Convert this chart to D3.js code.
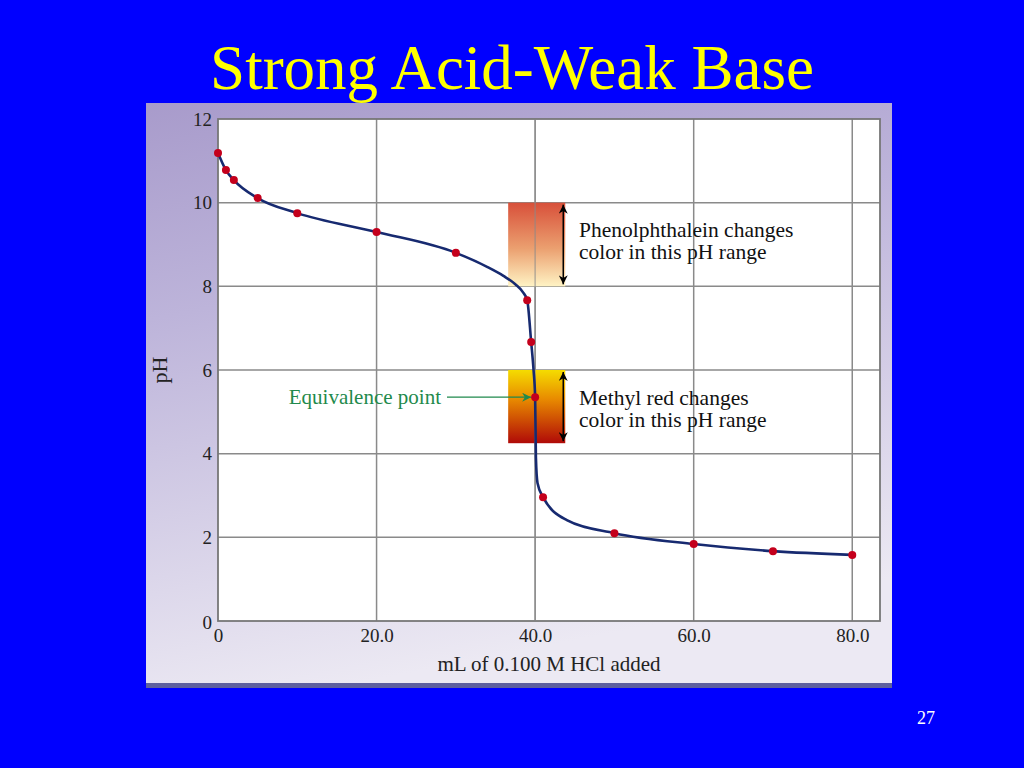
<!DOCTYPE html>
<html><head><meta charset="utf-8">
<script src="https://cdn.jsdelivr.net/npm/d3@7"></script>
<style>html,body{margin:0;padding:0;background:#0000ff;overflow:hidden}</style>
</head><body>
<svg id="c" width="1024" height="768"></svg>
<script>
// ---- data ----
const titleText = "Strong Acid-Weak Base";
const xTickValues = [0, 20, 40, 60, 80];
const xTickLabels = ["0", "20.0", "40.0", "60.0", "80.0"];
const yTickValues = [0, 2, 4, 6, 8, 10, 12];
const yTickLabels = ["0", "2", "4", "6", "8", "10", "12"];
const pointVolumes = [0, 1, 2, 5, 10, 20, 30, 39, 39.5, 40, 41, 50, 60, 70, 80];
const pointPH = [11.19, 10.78, 10.54, 10.11, 9.75, 9.30, 8.80, 7.67, 6.67, 5.35, 2.96, 2.10, 1.84, 1.67, 1.58];
const curveVolumes = [0, 1, 2, 5, 10, 20, 30, 34, 36, 37.5, 38.5, 39, 39.5, 39.8, 40, 40.1, 40.3, 41, 44, 50, 60, 70, 80];
const curvePH = [11.19, 10.78, 10.54, 10.11, 9.75, 9.30, 8.80, 8.46, 8.25, 8.05, 7.85, 7.67, 6.67, 6.0, 5.35, 3.9, 3.3, 2.96, 2.41, 2.10, 1.84, 1.67, 1.58];
const indicatorNames = ["Phenolphthalein", "Methyl red"];
const indicatorTop = [10, 6];
const indicatorBottom = [8, 4.25];
const indicatorX0 = [36.6, 36.6];
const indicatorX1 = [43.8, 43.8];
const indicatorText = [["Phenolphthalein changes", "color in this pH range"], ["Methyl red changes", "color in this pH range"]];
const eqVolume = 40, eqPH = 5.35;

const svg = d3.select("#c");
const x = d3.scaleLinear().domain([0, 83.5]).range([218, 880]);
const y = d3.scaleLinear().domain([0, 12]).range([621, 119]);
const serif = "'Liberation Serif', 'Times New Roman', serif";

const defs = svg.append("defs");
const pg = defs.append("linearGradient").attr("id", "panel").attr("x1", 0).attr("y1", 0).attr("x2", 0.25).attr("y2", 1);
pg.append("stop").attr("offset", "0%").attr("stop-color", "#a89bcb");
pg.append("stop").attr("offset", "35%").attr("stop-color", "#bdb4da");
pg.append("stop").attr("offset", "100%").attr("stop-color", "#ece9f3");
const g1 = defs.append("linearGradient").attr("id", "g0").attr("x1", 0).attr("y1", 0).attr("x2", 0).attr("y2", 1);
g1.append("stop").attr("offset", "0%").attr("stop-color", "#d8503a");
g1.append("stop").attr("offset", "55%").attr("stop-color", "#eba070");
g1.append("stop").attr("offset", "100%").attr("stop-color", "#fff3c4");
const g2 = defs.append("linearGradient").attr("id", "g1").attr("x1", 0).attr("y1", 0).attr("x2", 0).attr("y2", 1);
g2.append("stop").attr("offset", "0%").attr("stop-color", "#f5dc00");
g2.append("stop").attr("offset", "40%").attr("stop-color", "#e88a00");
g2.append("stop").attr("offset", "100%").attr("stop-color", "#b00a08");
defs.append("marker").attr("id", "ah").attr("viewBox", "0 0 10 10").attr("refX", 10).attr("refY", 5)
  .attr("markerWidth", 9).attr("markerHeight", 9).attr("markerUnits", "userSpaceOnUse").attr("orient", "auto-start-reverse")
  .append("path").attr("d", "M0,0 L10,5 L0,10 L3,5 Z").attr("fill", "#000");
defs.append("marker").attr("id", "ahg").attr("viewBox", "0 0 10 10").attr("refX", 10).attr("refY", 5)
  .attr("markerWidth", 14).attr("markerHeight", 9).attr("markerUnits", "userSpaceOnUse").attr("orient", "auto")
  .append("path").attr("d", "M0,0 L10,5 L0,10 L3,5 Z").attr("fill", "#1f8a4c");

// title
svg.append("text").attr("x", 512).attr("y", 89).attr("text-anchor", "middle")
  .attr("font-family", serif).attr("font-size", 63).attr("fill", "#ffff00").text(titleText);
// page number
svg.append("text").attr("x", 926).attr("y", 724).attr("text-anchor", "middle")
  .attr("font-family", serif).attr("font-size", 18).attr("fill", "#ffffff").text("27");

// panel
svg.append("rect").attr("x", 146).attr("y", 103).attr("width", 746).attr("height", 585).attr("fill", "url(#panel)");
svg.append("rect").attr("x", 146).attr("y", 683).attr("width", 746).attr("height", 5).attr("fill", "#5d5f9f");

// plot area
svg.append("rect").attr("x", x(0)).attr("y", y(12)).attr("width", x(83.5) - x(0)).attr("height", y(0) - y(12)).attr("fill", "#fff");

// gridlines
svg.append("g").selectAll("line").data(xTickValues.filter(v => v > 0)).join("line")
  .attr("x1", d => x(d)).attr("x2", d => x(d)).attr("y1", y(12)).attr("y2", y(0))
  .attr("stroke", "#8a8a8a").attr("stroke-width", 1.5);
svg.append("g").selectAll("line").data(yTickValues.filter(v => v > 0 && v < 12)).join("line")
  .attr("x1", x(0)).attr("x2", x(83.5)).attr("y1", d => y(d)).attr("y2", d => y(d))
  .attr("stroke", "#8a8a8a").attr("stroke-width", 1.5);
svg.append("rect").attr("x", x(0)).attr("y", y(12)).attr("width", x(83.5) - x(0)).attr("height", y(0) - y(12))
  .attr("fill", "none").attr("stroke", "#777").attr("stroke-width", 1.8);

// axes (labels only)
const xAxis = d3.axisBottom(x).tickValues(xTickValues).tickSize(0).tickPadding(8)
  .tickFormat((d, i) => xTickLabels[i]);
const gx = svg.append("g").attr("transform", `translate(0,${y(0)})`).call(xAxis);
gx.select(".domain").remove();
gx.selectAll("text").attr("font-family", serif).attr("font-size", 19).attr("fill", "#222");
const yAxis = d3.axisLeft(y).tickValues(yTickValues).tickSize(0).tickPadding(6)
  .tickFormat((d, i) => yTickLabels[i]);
const gy = svg.append("g").attr("transform", `translate(${x(0)},0)`).call(yAxis);
gy.select(".domain").remove();
gy.selectAll("text").attr("font-family", serif).attr("font-size", 19).attr("fill", "#222");
gy.selectAll(".tick").filter(d => d === 0).select("text").attr("dy", "0.42em").attr("x", -6);
svg.append("text").attr("transform", `translate(167,${y(6)}) rotate(-90)`).attr("text-anchor", "middle")
  .attr("font-family", serif).attr("font-size", 22).attr("fill", "#222").text("pH");
svg.append("text").attr("x", 549).attr("y", 671).attr("text-anchor", "middle")
  .attr("font-family", serif).attr("font-size", 21).attr("fill", "#222").text("mL of 0.100 M HCl added");

// indicator boxes
indicatorNames.forEach((n, i) => {
  svg.append("rect").attr("x", x(indicatorX0[i])).attr("y", y(indicatorTop[i]))
    .attr("width", x(indicatorX1[i]) - x(indicatorX0[i])).attr("height", y(indicatorBottom[i]) - y(indicatorTop[i]))
    .attr("fill", `url(#g${i})`);
});
// grid line at 40 faintly visible over boxes
svg.append("line").attr("x1", x(40)).attr("x2", x(40)).attr("y1", y(12)).attr("y2", y(0))
  .attr("stroke", "#8a8a8a").attr("stroke-width", 1.5).attr("opacity", 0.6);
const textBase = [[237, 259], [405, 427]];
indicatorNames.forEach((n, i) => {
  const ax = x(indicatorX1[i]) - 2;
  svg.append("line").attr("x1", ax).attr("x2", ax).attr("y1", y(indicatorTop[i]) + 2).attr("y2", y(indicatorBottom[i]) - 2)
    .attr("stroke", "#000").attr("stroke-width", 1.5)
    .attr("marker-start", "url(#ah)").attr("marker-end", "url(#ah)");
  svg.append("text").attr("x", 579).attr("y", textBase[i][0]).attr("font-family", serif).attr("font-size", 21.5)
    .attr("fill", "#111").text(indicatorText[i][0]);
  svg.append("text").attr("x", 579).attr("y", textBase[i][1]).attr("font-family", serif).attr("font-size", 21.5)
    .attr("fill", "#111").text(indicatorText[i][1]);
});

// curve
const line = d3.line().x(d => x(d[0])).y(d => y(d[1])).curve(d3.curveMonotoneX);
svg.append("path").datum(curveVolumes.map((v, i) => [v, curvePH[i]]))
  .attr("d", line).attr("fill", "none").attr("stroke", "#172a70").attr("stroke-width", 2.6);

// equivalence arrow
svg.append("line").attr("x1", 447).attr("x2", x(eqVolume) - 4).attr("y1", y(eqPH)).attr("y2", y(eqPH))
  .attr("stroke", "#1f8a4c").attr("stroke-width", 1.3).attr("marker-end", "url(#ahg)");
svg.append("text").attr("x", 441).attr("y", 404).attr("text-anchor", "end")
  .attr("font-family", serif).attr("font-size", 21).attr("fill", "#1f8a4c").text("Equivalence point");

// points
svg.append("g").selectAll("circle").data(pointVolumes.map((v, i) => [v, pointPH[i]])).join("circle")
  .attr("cx", d => x(d[0])).attr("cy", d => y(d[1])).attr("r", 4).attr("fill", "#c4001c");
</script>
</body></html>
